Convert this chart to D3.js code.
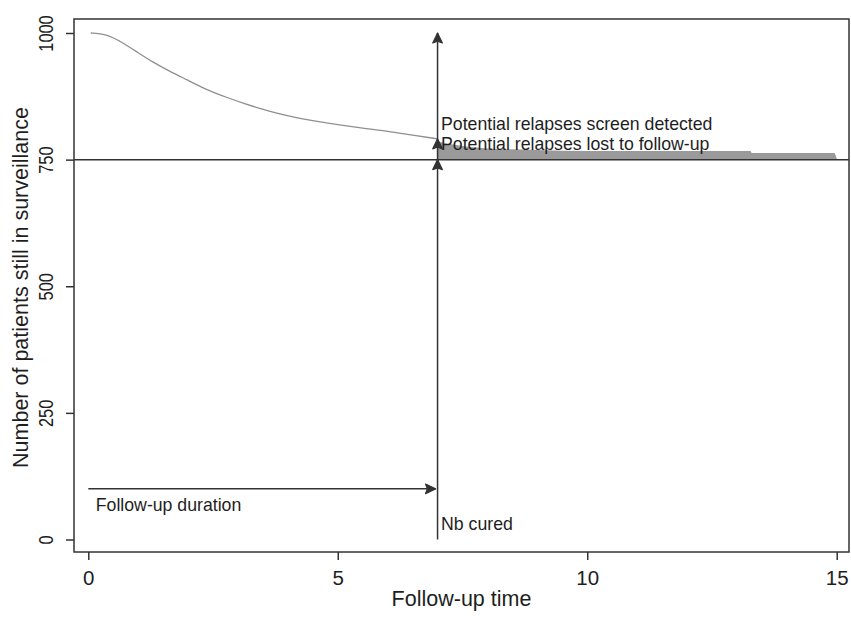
<!DOCTYPE html>
<html>
<head>
<meta charset="utf-8">
<script src="https://cdn.jsdelivr.net/npm/d3@7"></script>
<style>
  body { margin: 0; background: #fff; }
  svg { display: block; }
  text { font-family: "Liberation Sans", Arial, sans-serif; fill: #1e1e1e; }
</style>
</head>
<body>
<svg id="chart" width="851" height="617"></svg>
<script>
// Patients still in surveillance over follow-up time (years)
const survTime  = [0.05, 0.3, 0.5, 0.67, 0.97, 1.3, 1.64, 1.97, 2.37, 2.77, 3.17, 3.44, 4, 4.5, 5, 5.5, 6, 6.5, 7];
const survCount = [1000, 998, 991, 982, 963, 942, 924, 908, 888, 873, 859, 851, 836, 827, 819, 812, 806, 798, 791];

// Potential relapses after the end of follow-up (band above the cured level)
const bandTime   = [7, 7.5, 8, 9, 10, 13.27, 13.3, 14.95, 15];
const bandTop    = [786, 777, 772, 769, 767, 767, 763, 763, 752];
const curedLevel = 750;

// Follow-up duration and arrow end points
const followUpEnd   = 7;
const followUpLevel = 100;
const arrowTips     = [1000, 791, 750];

const xTicks = [0, 5, 10, 15];
const yTicks = [0, 250, 500, 750, 1000];

const labels = [
  { text: "Potential relapses screen detected", t: 7.07, v: 808 },
  { text: "Potential relapses lost to follow-up", t: 7.07, v: 769 },
  { text: "Follow-up duration", t: 0.15, v: 56 },
  { text: "Nb cured", t: 7.07, v: 19 }
];

const svg = d3.select("#chart");
const frame = { left: 74, right: 849, top: 19, bottom: 552 };

const x = d3.scaleLinear().domain([0, 15]).range([88.3, 836.7]);
const y = d3.scaleLinear().domain([0, 1000]).range([539.5, 33]);

const ink = "#333";

// Axes
const xAxis = svg.append("g")
  .attr("transform", `translate(0,${frame.bottom})`)
  .call(d3.axisBottom(x).tickValues(xTicks).tickSize(8).tickPadding(10).tickFormat(d3.format("d")));
xAxis.select(".domain").remove();
xAxis.selectAll("line").attr("stroke", ink).attr("stroke-width", 1.5);
xAxis.selectAll("text").attr("font-size", 20.5).attr("fill", "#1e1e1e");

const yAxis = svg.append("g")
  .attr("transform", `translate(${frame.left},0)`)
  .call(d3.axisLeft(y).tickValues(yTicks).tickSize(8).tickFormat(d3.format("d")));
yAxis.select(".domain").remove();
yAxis.selectAll("line").attr("stroke", ink).attr("stroke-width", 1.5);
// Tick labels are set upright along the axis in a condensed face
yAxis.selectAll("text")
  .attr("transform", "rotate(-90)")
  .attr("x", 0).attr("y", -21).attr("dy", 0)
  .attr("text-anchor", "middle")
  .attr("font-size", 20)
  .attr("textLength", d => String(d).length * 9.1)
  .attr("lengthAdjust", "spacingAndGlyphs")
  .attr("fill", "#1e1e1e");

// Frame
svg.append("rect")
  .attr("x", frame.left).attr("y", frame.top)
  .attr("width", frame.right - frame.left).attr("height", frame.bottom - frame.top)
  .attr("fill", "none").attr("stroke", ink).attr("stroke-width", 1.5);

// Axis titles
svg.append("text")
  .attr("x", (frame.left + frame.right) / 2).attr("y", 606)
  .attr("text-anchor", "middle").attr("font-size", 21.5)
  .text("Follow-up time");
svg.append("text")
  .attr("transform", `translate(28,${(frame.top + frame.bottom) / 2 + 2}) rotate(-90)`)
  .attr("text-anchor", "middle").attr("font-size", 21.5)
  .text("Number of patients still in surveillance");

// Relapse band
const band = d3.area()
  .x((d, i) => x(bandTime[i]))
  .y0(() => y(curedLevel))
  .y1((d, i) => y(bandTop[i]))
  .curve(d3.curveMonotoneX);
svg.append("path").datum(bandTop)
  .attr("d", band).attr("fill", "#9a9a9a");

// Surveillance curve
const curve = d3.line()
  .x((d, i) => x(survTime[i]))
  .y(d => y(d))
  .curve(d3.curveBasis);
svg.append("path").datum(survCount)
  .attr("d", curve).attr("fill", "none")
  .attr("stroke", "#8f8f8f").attr("stroke-width", 1.3);

// Cured level line
svg.append("line")
  .attr("x1", frame.left).attr("x2", frame.right)
  .attr("y1", y(curedLevel)).attr("y2", y(curedLevel))
  .attr("stroke", ink).attr("stroke-width", 1.5);

// Vertical arrows from 0 at the end of follow-up
const head = "M0,0 L4.8,10 L0,8.2 L-4.8,10 Z";
svg.append("line")
  .attr("x1", x(followUpEnd)).attr("x2", x(followUpEnd))
  .attr("y1", y(0)).attr("y2", y(d3.max(arrowTips)))
  .attr("stroke", ink).attr("stroke-width", 1.5);
svg.selectAll("path.uphead").data(arrowTips).join("path")
  .attr("class", "uphead")
  .attr("d", head)
  .attr("transform", d => `translate(${x(followUpEnd)},${y(d)})`)
  .attr("fill", ink).attr("stroke", ink).attr("stroke-width", 1.2).attr("stroke-linejoin", "round");

// Horizontal follow-up duration arrow
svg.append("line")
  .attr("x1", x(0)).attr("x2", x(followUpEnd) - 2)
  .attr("y1", y(followUpLevel)).attr("y2", y(followUpLevel))
  .attr("stroke", ink).attr("stroke-width", 1.5);
svg.append("path")
  .attr("d", head)
  .attr("transform", `translate(${x(followUpEnd) - 2},${y(followUpLevel)}) rotate(90)`)
  .attr("fill", ink).attr("stroke", ink).attr("stroke-width", 1.2).attr("stroke-linejoin", "round");

// Annotations
svg.selectAll("text.note").data(labels).join("text")
  .attr("class", "note")
  .attr("x", d => x(d.t)).attr("y", d => y(d.v))
  .attr("font-size", 17.7)
  .text(d => d.text);
</script>
</body>
</html>
